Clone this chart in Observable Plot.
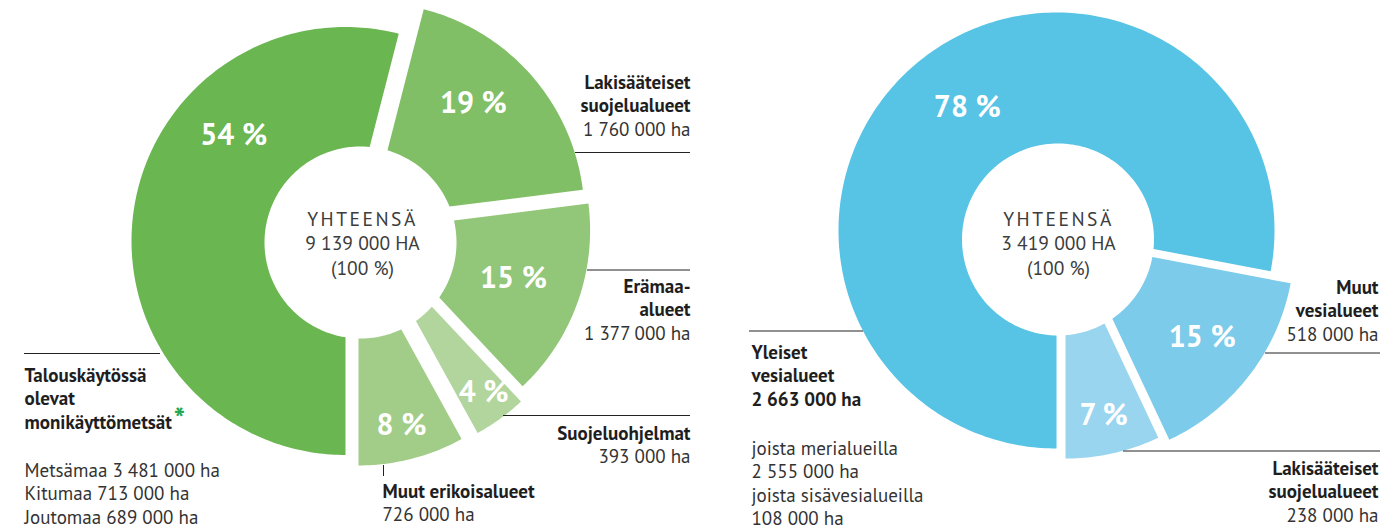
<!DOCTYPE html>
<html>
<head>
<meta charset="utf-8">
<script src="https://cdn.jsdelivr.net/npm/d3@7"></script>
<script src="https://cdn.jsdelivr.net/npm/@observablehq/plot@0.6"></script>
<style>
  html, body { margin: 0; padding: 0; background: #fff; }
</style>
</head>
<body>
<div id="chart"></div>
<script>
// ---------------- DATA ----------------
const landCategories = ["Talouskäytössä olevat monikäyttömetsät", "Lakisääteiset suojelualueet", "Erämaa-alueet", "Suojeluohjelmat", "Muut erikoisalueet"];
const landPercent = [54, 19, 15, 4, 8];
const landHectares = [null, 1760000, 1377000, 393000, 726000];
const landTotal = 9139000;
const forestParts = ["Metsämaa", "Kitumaa", "Joutomaa"];
const forestPartHectares = [3481000, 713000, 689000];

const waterCategories = ["Yleiset vesialueet", "Muut vesialueet", "Lakisääteiset suojelualueet"];
const waterPercent = [78, 15, 7];
const waterHectares = [2663000, 518000, 238000];
const waterTotal = 3419000;
const waterParts = ["joista merialueilla", "joista sisävesialueilla"];
const waterPartHectares = [2555000, 108000];

// ---------------- STYLE / LAYOUT ----------------
const FONT = "'PT Sans', Lato, 'Noto Sans', sans-serif";
const landColors = ["#6ab651", "#80bf66", "#92c678", "#b1d59c", "#a2cd88"];
const waterColors = ["#57c3e5", "#7ccbea", "#9ad5ef"];

const landLayout = {
  cx: 360, cy: 242, holeR: 96, R: 214, start: 180,
  explode: [[-15, -1.5], [10, -26], [15.6, -12.2], [14, 3], [-2, 9]],
  labelAngle: [313.3, 42.3, 109.3, 143.4, 166.1],
  labelR: [153.6, 152.9, 145.6, 183, 179]
};
const waterLayout = {
  cx: 1057.5, cy: 239, holeR: 96, R: 218, start: 180,
  explode: [[-1.5, -9], [18.5, 3], [7.5, 1]],
  labelAngle: [324, 127, 167.7],
  labelR: [151.8, 157.4, 179]
};

const fmt = d3.formatLocale({decimal: ",", thousands: " ", grouping: [3], currency: ["", ""]}).format(",d");
const ha = v => fmt(v) + " ha";

// ---------------- GEOMETRY (from values) ----------------
const rad = d => d * Math.PI / 180;
function donut(values, colors, L, name) {
  const total = d3.sum(values);
  const pts = [], labels = [];
  let a = L.start;
  values.forEach((v, i) => {
    const a0 = a, a1 = a + v / total * 360; a = a1;
    const ax = L.cx + L.explode[i][0], ay = L.cy + L.explode[i][1];
    const key = name + i, fill = colors[i];
    const N = Math.max(6, Math.ceil(a1 - a0));
    for (let k = 0; k <= N; k++) {
      const t = rad(a0 + (a1 - a0) * k / N);
      pts.push({key, fill, x: ax + L.R * Math.sin(t), y: ay - L.R * Math.cos(t)});
    }
    const hit = deg => {
      const t = rad(deg), ux = Math.sin(t), uy = -Math.cos(t);
      const px = ax - L.cx, py = ay - L.cy;
      const b = px * ux + py * uy, c = px * px + py * py - L.holeR * L.holeR;
      const s = -b + Math.sqrt(b * b - c);
      return [ax + s * ux, ay + s * uy];
    };
    const angOf = (p, near) => {
      let d = Math.atan2(p[0] - L.cx, -(p[1] - L.cy)) * 180 / Math.PI;
      return d + 360 * Math.round((near - d) / 360);
    };
    const p1 = hit(a1), p0 = hit(a0);
    const f1 = angOf(p1, a1), f0 = angOf(p0, a0);
    const M = Math.max(6, Math.ceil(Math.abs(f1 - f0)));
    for (let k = 0; k <= M; k++) {
      const t = rad(f1 + (f0 - f1) * k / M);
      pts.push({key, fill, x: L.cx + L.holeR * Math.sin(t), y: L.cy - L.holeR * Math.cos(t)});
    }
    const lt = rad(L.labelAngle[i]);
    labels.push({x: ax + L.labelR[i] * Math.sin(lt), y: ay - L.labelR[i] * Math.cos(lt), text: v + " %"});
  });
  return {pts, labels};
}
const land = donut(landPercent, landColors, landLayout, "land");
const water = donut(waterPercent, waterColors, waterLayout, "water");

// ---------------- ANNOTATIONS ----------------
const blocks = [
  {x: 690, anchor: "end", y: 82, bold: ["Lakisääteiset", "suojelualueet"], reg: [ha(landHectares[1])]},
  {x: 690, anchor: "end", y: 286, bold: ["Erämaa-", "alueet"], reg: [ha(landHectares[2])]},
  {x: 690, anchor: "end", y: 433, bold: ["Suojeluohjelmat"], reg: [ha(landHectares[3])]},
  {x: 382, anchor: "start", y: 491, bold: ["Muut erikoisalueet"], reg: [ha(landHectares[4])]},
  {x: 24, anchor: "start", y: 375, bold: ["Talouskäytössä", "olevat", "monikäyttömetsät"],
    regY: 470, reg: forestParts.map((p, i) => p + " " + ha(forestPartHectares[i]))},
  {x: 1378, anchor: "end", y: 287, bold: ["Muut", "vesialueet"], reg: [ha(waterHectares[1])]},
  {x: 1378, anchor: "end", y: 468, bold: ["Lakisääteiset", "suojelualueet"], reg: [ha(waterHectares[2])]},
  {x: 751, anchor: "start", y: 352, bold: ["Yleiset", "vesialueet", ha(waterHectares[0])],
    regY: 448, reg: waterParts.flatMap((p, i) => [p, ha(waterPartHectares[i])])}
];
const STEP = 23.6;
const lines = [];
blocks.forEach(b => {
  b.bold.forEach((t, i) => lines.push({x: b.x, y: b.y + i * STEP, text: t, anchor: b.anchor, bold: true}));
  const ry = b.regY ?? (b.y + b.bold.length * STEP);
  b.reg.forEach((t, i) => lines.push({x: b.x, y: ry + i * STEP, text: t, anchor: b.anchor, bold: false}));
});
const leaders = [
  {y: 152, x1: 575, x2: 690},
  {y: 269.5, x1: 587, x2: 690},
  {y: 415, x1: 503, x2: 690},
  {y: 353, x1: 24, x2: 160},
  {y: 352.5, x1: 1265, x2: 1380},
  {y: 450.5, x1: 1123, x2: 1380},
  {y: 330.5, x1: 749, x2: 863}
];
const ticks = [{x: 383, y1: 465, y2: 476}];
const centers = [
  {x: 362, y: 219, t1: "YHTEENSÄ", t2: fmt(landTotal) + " HA", t3: "(100 %)"},
  {x: 1058, y: 219, t1: "YHTEENSÄ", t2: fmt(waterTotal) + " HA", t3: "(100 %)"}
];
const centerLines = centers.flatMap(c => [
  {x: c.x, y: c.y, text: c.t1},
  {x: c.x, y: c.y + 24.5, text: c.t2},
  {x: c.x, y: c.y + 49, text: c.t3}
]);

const textMark = (data, anchor, bold) => Plot.text(data.filter(d => d.anchor === anchor && d.bold === bold), {
  x: "x", y: "y", text: "text", textAnchor: anchor, fontSize: 19,
  fontWeight: bold ? 700 : 400, fill: bold ? "#1e1e1e" : "#333", fontFamily: FONT
});

const chart = Plot.plot({
  width: 1382, height: 528, margin: 0,
  x: {domain: [0, 1382], range: [0, 1382], axis: null},
  y: {domain: [0, 528], range: [0, 528], axis: null},
  color: {type: "identity"},
  style: {fontFamily: FONT, background: "white", overflow: "visible"},
  marks: [
    Plot.line(land.pts.concat(water.pts), {x: "x", y: "y", z: "key", fill: "fill", stroke: "none", curve: "linear-closed"}),
    Plot.text(land.labels.concat(water.labels), {x: "x", y: "y", text: "text", fill: "white", fontSize: 30, fontWeight: 700, fontFamily: FONT}),
    Plot.text(centerLines, {x: "x", y: "y", text: "text", fill: "#3c3c3c", fontSize: 19.5, fontWeight: 400, fontFamily: FONT}),
    Plot.ruleY(leaders, {y: "y", x1: "x1", x2: "x2", stroke: "#222", strokeWidth: 1}),
    Plot.ruleX(ticks, {x: "x", y1: "y1", y2: "y2", stroke: "#222", strokeWidth: 1}),
    textMark(lines, "start", true), textMark(lines, "start", false),
    textMark(lines, "end", true), textMark(lines, "end", false),
    Plot.text([{x: 179, y: 420, text: "*"}], {x: "x", y: "y", text: "text", fill: "#22a750", fontSize: 30, fontWeight: 700, fontFamily: FONT})
  ]
});
d3.select(chart).selectAll("text").filter(function () { return this.textContent === "YHTEENSÄ"; })
  .attr("letter-spacing", "2.5px");
document.getElementById("chart").appendChild(chart);
</script>
</body>
</html>
